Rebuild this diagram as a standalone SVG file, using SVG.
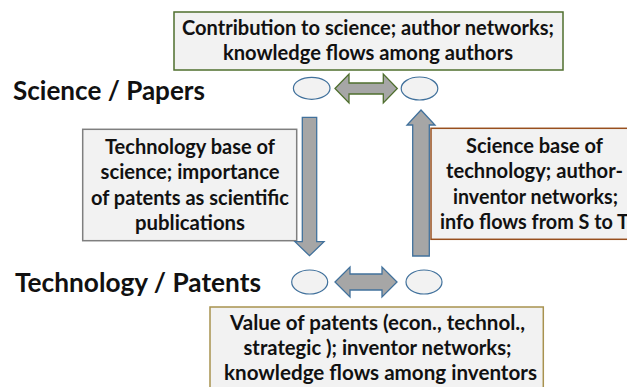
<svg xmlns="http://www.w3.org/2000/svg" width="627" height="387" viewBox="0 0 627 387">
<style>
  text { font-family: Lato, "Liberation Sans", sans-serif; font-weight: bold; fill: #111; text-anchor: middle; }
  .box { font-size: 20px; }
  .head { font-size: 26.5px; text-anchor: start; }
  .bx { fill: #f2f2f2; stroke-width: 1.5; }
  .ell { fill: #f2f2f2; stroke: #41719c; stroke-width: 1.2; }
  .arr { fill: #a6a6a6; stroke: #41719c; stroke-width: 1.3; stroke-linejoin: miter; }
  .arrg { fill: #a6a6a6; stroke: #4f6f2e; stroke-width: 1.3; }
</style>
<rect width="627" height="387" fill="#ffffff"/>

<g id="label-science">
  <text class="head" x="13" y="99.5" textLength="192" lengthAdjust="spacingAndGlyphs">Science / Papers</text>
</g>
<g id="label-technology">
  <text class="head" x="15" y="291.5" textLength="246" lengthAdjust="spacingAndGlyphs">Technology / Patents</text>
</g>

<g id="box-top">
  <rect class="bx" x="174" y="12" width="389" height="58" stroke="#4f6f2e"/>
  <text class="box" x="368" y="35" textLength="372" lengthAdjust="spacingAndGlyphs">Contribution to science; author networks;</text>
  <text class="box" x="368" y="59.5" textLength="290" lengthAdjust="spacingAndGlyphs">knowledge flows among authors</text>
</g>

<g id="box-left">
  <rect class="bx" x="82.7" y="129.3" width="214" height="111.4" stroke="#7f7f7f"/>
  <text class="box" x="190" y="154" textLength="170" lengthAdjust="spacingAndGlyphs">Technology base of</text>
  <text class="box" x="190" y="179.3" textLength="179" lengthAdjust="spacingAndGlyphs">science; importance</text>
  <text class="box" x="190" y="204.6" textLength="198" lengthAdjust="spacingAndGlyphs">of patents as scientific</text>
  <text class="box" x="190" y="230" textLength="110" lengthAdjust="spacingAndGlyphs">publications</text>
</g>

<g id="box-right">
  <rect class="bx" x="431" y="128.3" width="215" height="111" stroke="#984f1e"/>
  <text class="box" x="534.5" y="152.5" textLength="137" lengthAdjust="spacingAndGlyphs">Science base of</text>
  <text class="box" x="534.5" y="178" textLength="177" lengthAdjust="spacingAndGlyphs">technology; author-</text>
  <text class="box" x="535.5" y="203.5" textLength="165" lengthAdjust="spacingAndGlyphs">inventor networks;</text>
  <text class="box" x="534.5" y="229" textLength="189" lengthAdjust="spacingAndGlyphs">info flows from S to T</text>
</g>

<g id="box-bottom">
  <rect class="bx" x="210" y="307" width="333.3" height="95" stroke="#a8924f"/>
  <text class="box" x="377.5" y="329.5" textLength="295" lengthAdjust="spacingAndGlyphs">Value of patents (econ., technol.,</text>
  <text class="box" x="377.5" y="355" textLength="268" lengthAdjust="spacingAndGlyphs">strategic ); inventor networks;</text>
  <text class="box" x="380.5" y="379.5" textLength="313" lengthAdjust="spacingAndGlyphs">knowledge flows among inventors</text>
</g>

<g id="ellipse-sp">
  <ellipse class="ell" cx="311.7" cy="88.3" rx="18.3" ry="11"/>
</g>
<g id="ellipse-sa">
  <ellipse class="ell" cx="419.5" cy="88.5" rx="18.3" ry="11.5"/>
</g>
<g id="ellipse-tp">
  <ellipse class="ell" cx="309.7" cy="282" rx="18" ry="12"/>
</g>
<g id="ellipse-ta">
  <ellipse class="ell" cx="424" cy="282" rx="18" ry="12"/>
</g>

<g id="connectors">
  <path class="arrg" d="M335,88.5 L349,74 L349,83 L383.3,83 L383.3,74 L397.3,88.5 L383.3,103 L383.3,94 L349,94 L349,103 Z"/>
  <path class="arr" d="M335,282 L350,267 L350,274 L382,274 L382,267 L397,282 L382,297 L382,290 L350,290 L350,297 Z"/>
  <path class="arr" d="M302.3,117.3 L316.7,117.3 L316.7,241.7 L324,241.7 L309.5,255.7 L295,241.7 L302.3,241.7 Z"/>
  <path class="arr" d="M421,110 L435,125 L429.3,125 L429.3,256 L412.7,256 L412.7,125 L407,125 Z"/>
</g>
</svg>
